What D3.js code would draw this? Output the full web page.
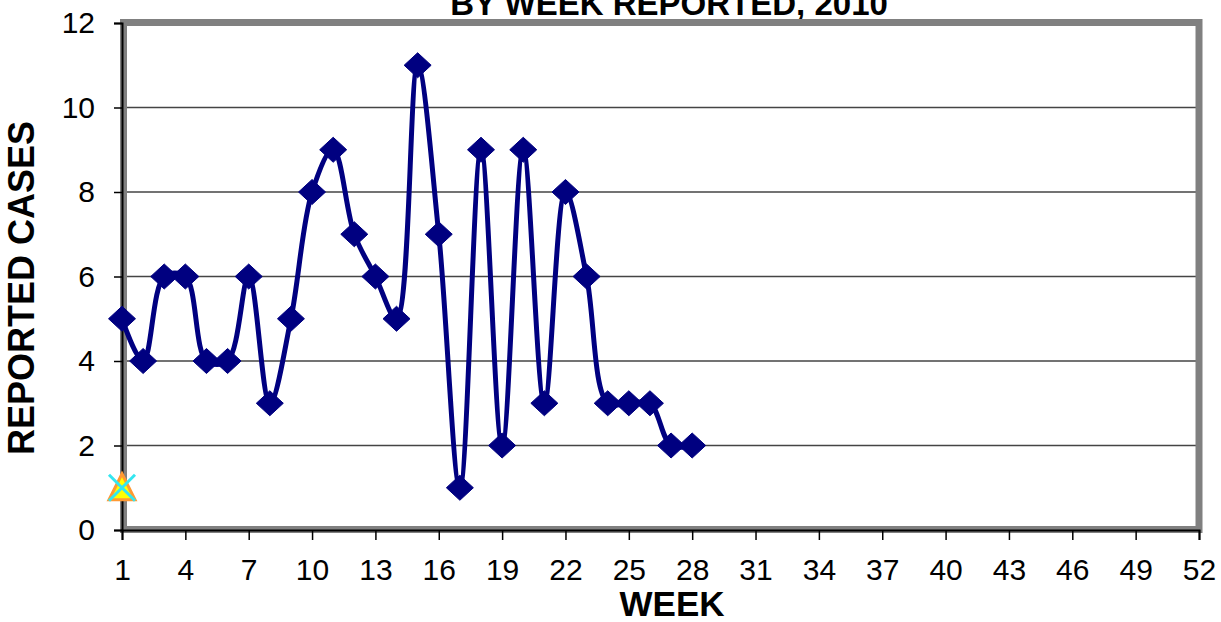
<!DOCTYPE html>
<html>
<head>
<meta charset="utf-8">
<script src="https://cdn.jsdelivr.net/npm/d3@7"></script>
<style>
html,body{margin:0;padding:0;background:#fff;}
svg{display:block;font-family:"Liberation Sans",Arial,sans-serif;}
</style>
</head>
<body>
<svg id="chart" width="1221" height="622"></svg>
<script>
const weeks = d3.range(1, 29);
const cases = [5,4,6,6,4,4,6,3,5,8,9,7,6,5,11,7,1,9,2,9,3,8,6,3,3,3,2,2];
const extraWeeks = [1];
const extraValues = [1];
const xTicks = d3.range(1, 53, 3);
const yTicks = [0,2,4,6,8,10,12];
const titleText = "BY WEEK REPORTED, 2010";
const xTitle = "WEEK";
const yTitle = "REPORTED CASES";

const svg = d3.select("#chart");
const x = d3.scaleLinear().domain([1,52]).range([122,1199]);
const y = d3.scaleLinear().domain([0,12]).range([530,23]);

// title (cut at top)
svg.append("text").attr("x",669).attr("y",15).attr("text-anchor","middle")
  .attr("font-weight","bold").attr("font-size",33).attr("fill","#000").text(titleText);

// grid lines
svg.append("g").selectAll("line").data(yTicks.filter(d=>d>0 && d<12)).join("line")
  .attr("x1",x(1)).attr("x2",x(52)).attr("y1",d=>y(d)).attr("y2",d=>y(d))
  .attr("stroke","#444").attr("stroke-width",1.5);

// plot frame
svg.append("rect").attr("x",123.5).attr("y",22.5).attr("width",1075.5).attr("height",507)
  .attr("fill","none").attr("stroke","#808080").attr("stroke-width",7);

// axes
const yAxis = d3.axisLeft(y).tickValues(yTicks).tickSize(8).tickPadding(19).tickFormat(d3.format("d"));
const gy = svg.append("g").attr("transform",`translate(${x(1)},0)`).call(yAxis);
gy.select(".domain").attr("stroke","#000").attr("stroke-width",2);
gy.selectAll(".tick line").attr("stroke","#000").attr("stroke-width",1.5);
gy.selectAll("text").attr("font-size",30).attr("font-family","Liberation Sans, Arial, sans-serif").attr("fill","#000");

const xAxis = d3.axisBottom(x).tickValues(xTicks).tickSize(10).tickPadding(19).tickFormat(d3.format("d"));
const gx = svg.append("g").attr("transform",`translate(0,${y(0)})`).call(xAxis);
gx.select(".domain").attr("stroke","#000").attr("stroke-width",2);
gx.selectAll(".tick line").attr("stroke","#000").attr("stroke-width",1.5);
gx.selectAll("text").attr("font-size",30).attr("font-family","Liberation Sans, Arial, sans-serif").attr("fill","#000");

// axis titles
svg.append("text").attr("x",672).attr("y",616).attr("text-anchor","middle")
  .attr("font-weight","bold").attr("font-size",35).text(xTitle);
svg.append("text").attr("transform","translate(34,288) rotate(-90)").attr("text-anchor","middle")
  .attr("font-weight","bold").attr("font-size",36).text(yTitle);

// series line
const data = weeks.map((w,i)=>({w, v:cases[i]}));
const line = d3.line().x(d=>x(d.w)).y(d=>y(d.v)).curve(d3.curveCatmullRom.alpha(0.5));
svg.append("path").datum(data).attr("d",line).attr("fill","none")
  .attr("stroke","#000080").attr("stroke-width",5).attr("stroke-linejoin","round");

// diamond markers
const dHalfW = 13.5, dHalfH = 12.5;
svg.append("g").selectAll("path").data(data).join("path")
  .attr("d",d=>{const cx=x(d.w), cy=y(d.v);
    return `M${cx},${cy-dHalfH}L${cx+dHalfW},${cy}L${cx},${cy+dHalfH}L${cx-dHalfW},${cy}Z`;})
  .attr("fill","#000080").attr("stroke","#000080").attr("stroke-width",1);

// extra marker: triangle with X
const extra = extraWeeks.map((w,i)=>({w, v:extraValues[i]}));
const eg = svg.append("g").selectAll("g").data(extra).join("g")
  .attr("transform",d=>`translate(${x(d.w)},${y(d.v)})`);
eg.append("path").attr("d","M0,-14L13,12L-13,12Z").attr("fill","#ffff00")
  .attr("stroke","#ff9933").attr("stroke-width",3);
eg.append("path").attr("d","M-13,-13L13,13M13,-13L-13,13").attr("stroke","#33e6f0")
  .attr("stroke-width",3).attr("fill","none");
</script>
</body>
</html>
